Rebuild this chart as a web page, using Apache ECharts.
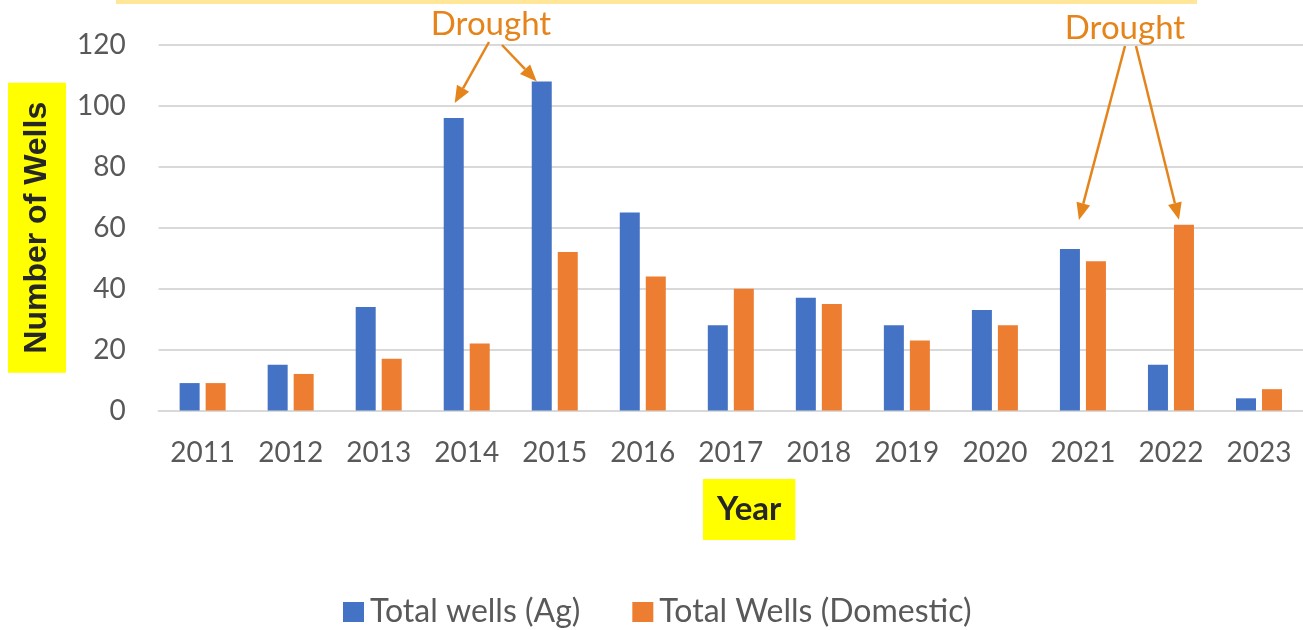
<!DOCTYPE html>
<html>
<head>
<meta charset="utf-8">
<script src="https://cdn.jsdelivr.net/npm/echarts@6/dist/echarts.min.js"></script>
<style>
    html, body {margin: 0; padding: 0; background: #fff;}
    #main {width: 1303px; height: 630px;}
</style>
</head>
<body>
<div id="main"></div>
<script>
// 数据
let years = ['2011', '2012', '2013', '2014', '2015', '2016', '2017', '2018', '2019', '2020', '2021', '2022', '2023'];
let agWells = [9, 15, 34, 96, 108, 65, 28, 37, 28, 33, 53, 15, 4];
let domesticWells = [9, 12, 17, 22, 52, 44, 40, 35, 23, 28, 49, 61, 7];
let yTicks = [0, 20, 40, 60, 80, 100, 120];

// 干旱年份的箭头: 指向哪根柱子
let droughtNotes = [
    {text: 'Drought', pos: [491, 24], arrows: [
        {year: '2014', series: 0, lift: 15, nudge: 1, tail: [489, 42]},
        {year: '2015', series: 0, lift: 0, nudge: -5, tail: [502, 45]}
    ]},
    {text: 'Drought', pos: [1125, 28], arrows: [
        {year: '2021', series: 0, lift: 29, nudge: 9, tail: [1125, 46]},
        {year: '2022', series: 1, lift: 5, nudge: -5, tail: [1136, 46]}
    ]}
];

let orange = '#E5841B';
let myChart = echarts.init(document.getElementById('main'));

let option = {
    backgroundColor: '#fff',
    animation: false,
    color: ['#4472C4', '#ED7D31'],
    title: {
        text: 'Year',
        left: 703,
        top: 479,
        padding: [14, 14],
        backgroundColor: '#FFFF00',
        textStyle: {fontFamily: 'Lato', fontWeight: 'bold', fontSize: 33, lineHeight: 33, color: '#262626'}
    },
    legend: {
        left: 343,
        top: 596,
        padding: 0,
        itemWidth: 21,
        itemHeight: 20,
        itemGap: 52,
        icon: 'rect',
        textStyle: {fontFamily: 'Lato', fontSize: 32, color: '#595959', padding: [0, 0, 0, 1]},
        data: ['Total wells (Ag)', 'Total Wells (Domestic)']
    },
    grid: {left: 153, top: 45, width: 1151, bottom: 219.5, containLabel: false},
    xAxis: {
        type: 'category',
        data: years,
        axisLine: {show: true, lineStyle: {color: '#D9D9D9', width: 2}},
        axisTick: {show: false},
        axisLabel: {fontFamily: 'Lato', fontSize: 28, color: '#595959', margin: 28}
    },
    yAxis: {
        type: 'value',
        min: yTicks[0],
        max: yTicks[yTicks.length - 1],
        interval: yTicks[1] - yTicks[0],
        name: 'Number of Wells',
        nameLocation: 'middle',
        nameGap: 90,
        nameTextStyle: {
            fontFamily: 'Liberation Sans', fontWeight: 'bold', fontSize: 32, lineHeight: 32,
            color: '#262626', backgroundColor: '#FFFF00', padding: [13, 19]
        },
        axisLine: {show: false},
        axisTick: {show: false},
        axisLabel: {fontFamily: 'Lato', fontSize: 28, color: '#595959', margin: 33},
        splitLine: {lineStyle: {color: '#D9D9D9', width: 2}}
    },
    series: [{
        name: 'Total wells (Ag)',
        type: 'bar',
        data: agWells,
        barWidth: 20,
        barGap: '30%'
    }, {
        name: 'Total Wells (Domestic)',
        type: 'bar',
        data: domesticWells,
        barWidth: 20,
        barGap: '30%'
    }]
};
myChart.setOption(option);

// 箭头和文字
function arrow(tail, tip) {
    let dx = tip[0] - tail[0], dy = tip[1] - tail[1];
    let len = Math.sqrt(dx * dx + dy * dy);
    let ux = dx / len, uy = dy / len;
    let head = 17, half = 7;
    let bx = tip[0] - ux * head, by = tip[1] - uy * head;
    return [{
        type: 'line',
        shape: {x1: tail[0], y1: tail[1], x2: bx, y2: by},
        style: {stroke: orange, lineWidth: 2.5}
    }, {
        type: 'polygon',
        shape: {points: [tip, [bx - uy * half, by + ux * half], [bx + uy * half, by - ux * half]]},
        style: {fill: orange}
    }];
}

let elements = [{
    type: 'rect',
    shape: {x: 116, y: 0, width: 1081, height: 4},
    style: {fill: '#FFE699'}
}];
droughtNotes.forEach(function (note) {
    elements.push({
        type: 'text',
        x: note.pos[0],
        y: note.pos[1],
        style: {text: note.text, fill: orange, font: '33px Lato', align: 'center', verticalAlign: 'middle'}
    });
    note.arrows.forEach(function (a) {
        let i = years.indexOf(a.year);
        let v = a.series === 0 ? agWells[i] : domesticWells[i];
        let p = myChart.convertToPixel({xAxisIndex: 0, yAxisIndex: 0}, [i, v]);
        let offset = a.series === 0 ? -13 : 13;
        let tip = [p[0] + offset + a.nudge, p[1] - a.lift];
        elements = elements.concat(arrow(a.tail, tip));
    });
});
myChart.setOption({graphic: {elements: elements}});
</script>
</body>
</html>
